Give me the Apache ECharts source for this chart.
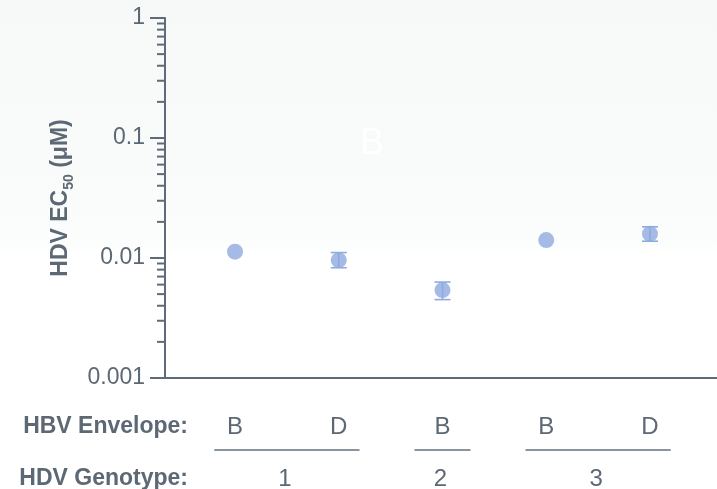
<!DOCTYPE html>
<html>
<head>
<meta charset="utf-8">
<script src="https://cdn.jsdelivr.net/npm/echarts@6/dist/echarts.min.js"></script>
<style>
  html, body { margin: 0; padding: 0; background: #ffffff; }
  #chart { width: 717px; height: 489px; }
</style>
</head>
<body>
<div id="chart"></div>
<script>
// HBV envelope used for each measurement, in plotting order
const envelopes = ['B', 'D', 'B', 'B', 'D'];
const positions = [1, 2, 3, 4, 5];

// HDV EC50 (µM): mean and error-bar limits
const ec50 = [0.0113, 0.0096, 0.0054, 0.0141, 0.0159];
const ec50Low = [0.0109, 0.0083, 0.0045, 0.0137, 0.0138];
const ec50High = [0.0117, 0.0111, 0.0063, 0.0145, 0.0182];

// HDV genotype groups (first and last position of each group)
const genotypeLabels = ['1', '2', '3'];
const genotypeFrom = [1, 3, 4];
const genotypeTo = [2, 3, 5];

// Log axis decades and their labels
const yTicks = [0.001, 0.01, 0.1, 1];
const yTickLabels = ['0.001', '0.01', '0.1', '1'];

const axisColor = '#5f6b78';
const textColor = '#5c6874';
const dotColor = '#8eaadf';
const fontFamily = '"Liberation Sans", Arial, Helvetica, sans-serif';
const dotSize = 16;

// minor ticks at 2..9 within each decade
const minorTicks = [];
for (let i = 0; i < yTicks.length - 1; i++) {
  for (let k = 2; k <= 9; k++) minorTicks.push([yTicks[i] * k]);
}

const xMin = 0.325, xMax = 5.646;

const chart = echarts.init(document.getElementById('chart'), null, { renderer: 'canvas' });

chart.setOption({
  animation: false,
  backgroundColor: {
    type: 'linear', x: 0, y: 0, x2: 0, y2: 1,
    colorStops: [
      { offset: 0, color: '#f7f8f8' },
      { offset: 0.35, color: '#f9fafa' },
      { offset: 0.5, color: '#fcfdfd' },
      { offset: 0.52, color: '#ffffff' },
      { offset: 1, color: '#ffffff' }
    ]
  },
  grid: { left: 165, right: 0, top: 18, bottom: 111, containLabel: false },
  xAxis: {
    type: 'value',
    min: xMin,
    max: xMax,
    splitLine: { show: false },
    axisLine: { show: true, lineStyle: { color: axisColor, width: 2 } },
    axisTick: { show: false },
    axisLabel: {
      customValues: positions,
      formatter: (v) => envelopes[positions.indexOf(Math.round(v))] || '',
      color: textColor,
      fontSize: 24,
      fontFamily: fontFamily,
      margin: 37
    }
  },
  yAxis: {
    type: 'log',
    logBase: 10,
    min: yTicks[0],
    max: yTicks[yTicks.length - 1],
    splitLine: { show: false },
    axisLine: { show: true, lineStyle: { color: axisColor, width: 2 } },
    axisTick: { show: true, length: 15, lineStyle: { color: axisColor, width: 2 } },
    axisLabel: {
      formatter: (v) => {
        const i = yTicks.findIndex(t => Math.abs(Math.log10(t) - Math.log10(v)) < 1e-6);
        return i >= 0 ? yTickLabels[i] : '';
      },
      color: textColor,
      fontSize: 23,
      fontFamily: fontFamily,
      margin: 20
    },
    name: '{t|HDV EC}{s|50}{t| (μM)}',
    nameLocation: 'middle',
    nameRotate: 90,
    nameGap: 92,
    nameTextStyle: {
      rich: {
        t: { fontSize: 23, fontWeight: 'bold', color: textColor, fontFamily: fontFamily, verticalAlign: 'bottom' },
        s: { fontSize: 14, fontWeight: 'bold', color: textColor, fontFamily: fontFamily, verticalAlign: 'bottom', padding: [0, 0, -4, 0] }
      }
    }
  },
  series: [
    {
      type: 'custom',
      name: 'minorTicks',
      data: minorTicks,
      clip: false,
      silent: true,
      encode: { y: 0 },
      renderItem: (params, api) => {
        const p = api.coord([xMin, api.value(0)]);
        return {
          type: 'line',
          shape: { x1: p[0] - 8, y1: p[1], x2: p[0], y2: p[1] },
          style: { stroke: axisColor, lineWidth: 2 }
        };
      }
    },
    {
      type: 'scatter',
      name: 'EC50',
      data: positions.map((x, i) => [x, ec50[i]]),
      symbol: 'circle',
      symbolSize: dotSize,
      itemStyle: { color: dotColor },
      z: 3
    },
    {
      type: 'custom',
      name: 'errorBars',
      data: positions.map((x, i) => [x, ec50Low[i], ec50High[i], ec50[i]]),
      encode: { x: 0, y: [1, 2] },
      z: 4,
      renderItem: (params, api) => {
        const x = api.value(0);
        const lo = api.coord([x, api.value(1)]);
        const hi = api.coord([x, api.value(2)]);
        const mid = api.coord([x, api.value(3)]);
        const r = dotSize / 2;
        // bars shorter than the symbol stay hidden behind it
        if (lo[1] - mid[1] < r - 1 && mid[1] - hi[1] < r - 1) return null;
        const hw = 8;
        const st = { stroke: dotColor, lineWidth: 1.6 };
        return {
          type: 'group',
          children: [
            { type: 'line', shape: { x1: lo[0], y1: lo[1], x2: hi[0], y2: hi[1] }, style: st },
            { type: 'line', shape: { x1: lo[0] - hw, y1: lo[1], x2: lo[0] + hw, y2: lo[1] }, style: st },
            { type: 'line', shape: { x1: hi[0] - hw, y1: hi[1], x2: hi[0] + hw, y2: hi[1] }, style: st }
          ]
        };
      }
    }
  ]
});

// genotype brackets and row headings under the axis
const groupGraphics = [];
genotypeLabels.forEach((label, i) => {
  const pad = genotypeFrom[i] === genotypeTo[i] ? 0.27 : 0.2;
  const x1 = chart.convertToPixel({ xAxisIndex: 0 }, genotypeFrom[i] - pad);
  const x2 = chart.convertToPixel({ xAxisIndex: 0 }, genotypeTo[i] + pad);
  groupGraphics.push({
    type: 'line',
    shape: { x1: x1, y1: 450, x2: x2, y2: 450 },
    style: { stroke: '#8a949e', lineWidth: 2 }
  });
  groupGraphics.push({
    type: 'text',
    x: (x1 + x2) / 2 - 2,
    y: 479,
    style: {
      text: label, fill: textColor, fontSize: 24, fontFamily: fontFamily,
      align: 'center', verticalAlign: 'middle'
    }
  });
});

groupGraphics.push({
  type: 'text', x: 188, y: 427,
  style: {
    text: 'HBV Envelope:', fill: textColor, fontSize: 23, fontWeight: 'bold',
    fontFamily: fontFamily, align: 'right', verticalAlign: 'middle'
  }
});
groupGraphics.push({
  type: 'text', x: 188, y: 479,
  style: {
    text: 'HDV Genotype:', fill: textColor, fontSize: 23, fontWeight: 'bold',
    fontFamily: fontFamily, align: 'right', verticalAlign: 'middle'
  }
});
// faint panel letter inside the plot
groupGraphics.push({
  type: 'text', x: 372, y: 144,
  style: {
    text: 'B', fill: '#ffffff', fontSize: 36,
    fontFamily: fontFamily, align: 'center', verticalAlign: 'middle'
  }
});

chart.setOption({ graphic: groupGraphics });
</script>
</body>
</html>
